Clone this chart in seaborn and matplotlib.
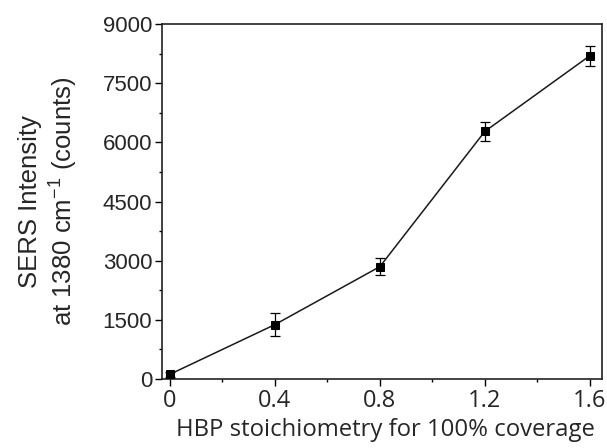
import matplotlib
matplotlib.use("Agg")
import matplotlib.pyplot as plt
import seaborn as sns
import pandas as pd
from matplotlib.ticker import MultipleLocator

stoich = [0.0, 0.4, 0.8, 1.2, 1.6]
intensity = [120, 1380, 2850, 6280, 8200]
err = [60, 300, 220, 240, 250]
xticks = [0, 0.4, 0.8, 1.2, 1.6]
xticklabels = ["0", "0.4", "0.8", "1.2", "1.6"]
yticks = [0, 1500, 3000, 4500, 6000, 7500, 9000]

df = pd.DataFrame({"x": stoich, "y": intensity})

sns.set_style("ticks")
plt.rcParams["font.family"] = ["Liberation Sans", "DejaVu Sans"]
plt.rcParams["mathtext.default"] = "regular"

fig = plt.figure(figsize=(6.07, 4.48), dpi=100)
ax = fig.add_axes([0.267, 0.154, 0.725, 0.792])

ax.errorbar(stoich, intensity, yerr=err, fmt="none", ecolor="black",
            elinewidth=0.9, capsize=3.5, capthick=0.9, zorder=2)
sns.lineplot(data=df, x="x", y="y", ax=ax, color="#1a1a1a", linewidth=1.1,
             marker="s", markersize=6, markeredgecolor="black",
             markerfacecolor="black", zorder=3)

ax.set_xlim(-0.03, 1.647)
ax.set_ylim(0, 9000)
ax.set_xticks(xticks)
ax.set_xticklabels(xticklabels, fontfamily="Open Sans", fontsize=17)
ax.set_yticks(yticks)
ax.xaxis.set_minor_locator(MultipleLocator(0.2))
ax.yaxis.set_minor_locator(MultipleLocator(750))
for lab in ax.get_yticklabels():
    lab.set_fontsize(16)
ax.tick_params(axis="both", which="major", direction="out", length=5,
               width=1, color="black", pad=2)
ax.tick_params(axis="both", which="minor", direction="out", length=2.5,
               width=1, color="black")
ax.tick_params(top=False, right=False)

for s in ax.spines.values():
    s.set_visible(True)
    s.set_linewidth(1.2)
    s.set_color("#222222")

ax.set_xlabel("HBP stoichiometry for 100% coverage", fontfamily="Open Sans",
              fontsize=17.2, labelpad=4)
ax.xaxis.label.set_x(0.507)
ax.set_ylabel("SERS Intensity\nat 1380 cm$^{-1}$ (counts)", fontsize=18.5,
              labelpad=16, linespacing=1.26)

fig.savefig("out.png", dpi=100)
